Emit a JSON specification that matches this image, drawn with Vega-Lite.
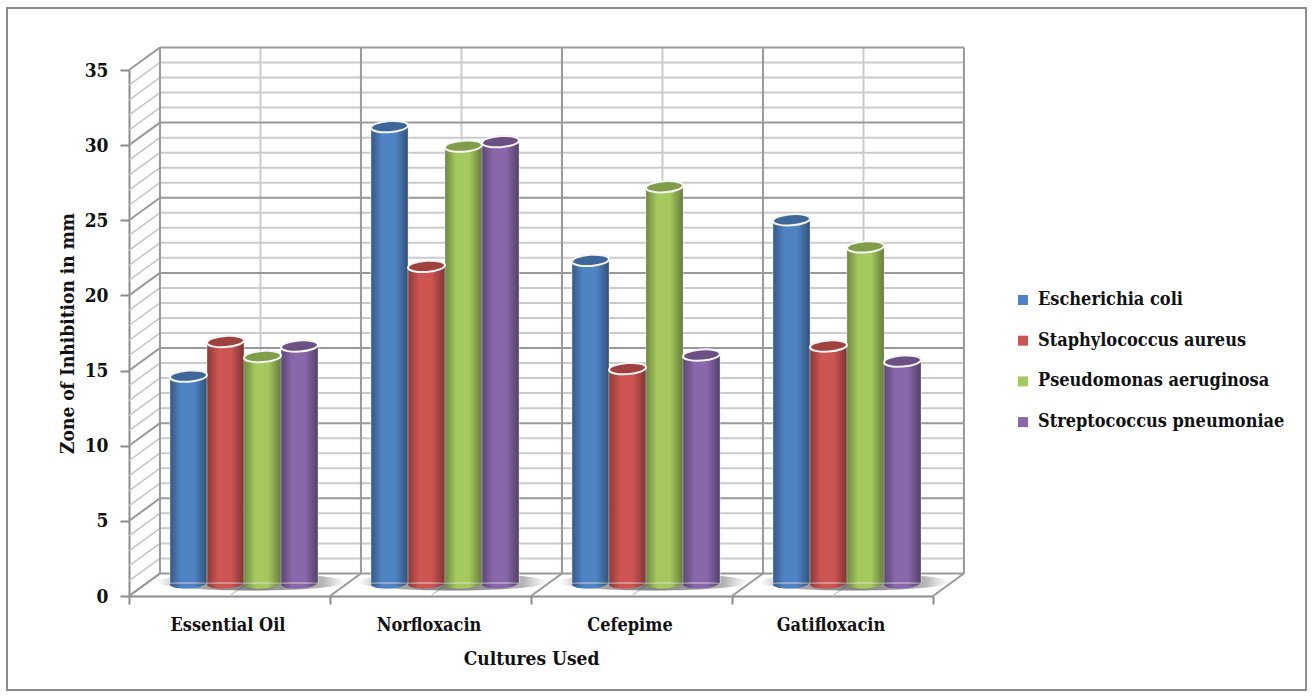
{
  "$schema": "https://vega.github.io/schema/vega-lite/v6.json",
  "width": 804,
  "height": 526,
  "autosize": {"type": "none"},
  "padding": {"left": 129, "top": 70, "right": 379, "bottom": 101},
  "background": "white",
  "config": {
    "view": {"stroke": null},
    "font": "DejaVu Serif Condensed"
  },
  "datasets": {
    "page": [{"panel": "page"}],
    "readings": [
      {"drug": "Essential Oil", "culture": "Escherichia coli", "zone": 13.9},
      {"drug": "Essential Oil", "culture": "Staphylococcus aureus", "zone": 16.2},
      {"drug": "Essential Oil", "culture": "Pseudomonas aeruginosa", "zone": 15.2},
      {"drug": "Essential Oil", "culture": "Streptococcus pneumoniae", "zone": 15.9},
      {"drug": "Norfloxacin", "culture": "Escherichia coli", "zone": 30.5},
      {"drug": "Norfloxacin", "culture": "Staphylococcus aureus", "zone": 21.2},
      {"drug": "Norfloxacin", "culture": "Pseudomonas aeruginosa", "zone": 29.2},
      {"drug": "Norfloxacin", "culture": "Streptococcus pneumoniae", "zone": 29.5},
      {"drug": "Cefepime", "culture": "Escherichia coli", "zone": 21.6},
      {"drug": "Cefepime", "culture": "Staphylococcus aureus", "zone": 14.4},
      {"drug": "Cefepime", "culture": "Pseudomonas aeruginosa", "zone": 26.5},
      {"drug": "Cefepime", "culture": "Streptococcus pneumoniae", "zone": 15.3},
      {"drug": "Gatifloxacin", "culture": "Escherichia coli", "zone": 24.3},
      {"drug": "Gatifloxacin", "culture": "Staphylococcus aureus", "zone": 15.9},
      {"drug": "Gatifloxacin", "culture": "Pseudomonas aeruginosa", "zone": 22.5},
      {"drug": "Gatifloxacin", "culture": "Streptococcus pneumoniae", "zone": 14.9}
    ],
    "drugs": [
      {"drug": "Essential Oil"},
      {"drug": "Norfloxacin"},
      {"drug": "Cefepime"},
      {"drug": "Gatifloxacin"}
    ],
    "minorLevels": [
      {"level": 1, "back": 2.5}, {"level": 2, "back": 3.5}, {"level": 3, "back": 4.5}, {"level": 4, "back": 5.5},
      {"level": 6, "back": 7.5}, {"level": 7, "back": 8.5}, {"level": 8, "back": 9.5}, {"level": 9, "back": 10.5},
      {"level": 11, "back": 12.5}, {"level": 12, "back": 13.5}, {"level": 13, "back": 14.5}, {"level": 14, "back": 15.5},
      {"level": 16, "back": 17.5}, {"level": 17, "back": 18.5}, {"level": 18, "back": 19.5}, {"level": 19, "back": 20.5},
      {"level": 21, "back": 22.5}, {"level": 22, "back": 23.5}, {"level": 23, "back": 24.5}, {"level": 24, "back": 25.5},
      {"level": 26, "back": 27.5}, {"level": 27, "back": 28.5}, {"level": 28, "back": 29.5}, {"level": 29, "back": 30.5},
      {"level": 31, "back": 32.5}, {"level": 32, "back": 33.5}, {"level": 33, "back": 34.5}, {"level": 34, "back": 35.5}
    ],
    "majorLevels": [
      {"level": 0, "back": 1.5}, {"level": 5, "back": 6.5}, {"level": 10, "back": 11.5}, {"level": 15, "back": 16.5},
      {"level": 20, "back": 21.5}, {"level": 25, "back": 26.5}, {"level": 30, "back": 31.5}, {"level": 35, "back": 36.5}
    ],
    "minorColumns": [
      {"front": 0.5, "back": 0.654}, {"front": 1.5, "back": 1.654}, {"front": 2.5, "back": 2.654}, {"front": 3.5, "back": 3.654}
    ],
    "majorColumns": [
      {"front": 0, "back": 0.154}, {"front": 1, "back": 1.154}, {"front": 2, "back": 2.154}, {"front": 3, "back": 3.154}, {"front": 4, "back": 4.154}
    ]
  },
  "layer": [
    {
      "layer": [
        {
          "data": {"name": "page"},
          "mark": {"type": "rect", "fill": "transparent", "stroke": "#8c8c8c", "strokeWidth": 2},
          "encoding": {
            "x": {"datum": -0.607, "type": "quantitative", "scale": {"domain": [0, 4], "nice": false}, "axis": null},
            "x2": {"datum": 5.856},
            "y": {"datum": 39.12, "type": "quantitative", "scale": {"domain": [0, 35], "nice": false}, "axis": {
              "values": [0, 5, 10, 15, 20, 25, 30, 35],
              "grid": false,
              "title": "Zone of Inhibition in mm",
              "titleFont": "DejaVu Serif Condensed",
              "titleFontSize": 19,
              "titleFontWeight": "bold",
              "titleColor": "#111111",
              "titlePadding": 7,
              "labelFont": "DejaVu Serif Condensed",
              "labelFontSize": 19,
              "labelFontWeight": "bold",
              "labelColor": "#111111",
              "labelPadding": 12,
              "tickSize": 9,
              "tickWidth": 2,
              "tickColor": "#8c8c8c",
              "domainColor": "#8c8c8c",
              "domainWidth": 2
            }},
            "y2": {"datum": -6.25}
          }
        },
        {
          "data": {"name": "minorLevels"},
          "mark": {"type": "rule", "color": "#cbcbcb", "strokeWidth": 2},
          "encoding": {
            "x": {"datum": 0.154, "type": "quantitative"},
            "x2": {"datum": 4.154},
            "y": {"field": "back", "type": "quantitative"}
          }
        },
        {
          "data": {"name": "minorLevels"},
          "mark": {"type": "rule", "color": "#c4c4c4", "strokeWidth": 1.5},
          "encoding": {
            "x": {"datum": 0, "type": "quantitative"},
            "x2": {"datum": 0.154},
            "y": {"field": "level", "type": "quantitative"},
            "y2": {"field": "back"}
          }
        },
        {
          "data": {"name": "minorColumns"},
          "mark": {"type": "rule", "color": "#cbcbcb", "strokeWidth": 2},
          "encoding": {
            "x": {"field": "back", "type": "quantitative"},
            "y": {"datum": 1.5, "type": "quantitative"},
            "y2": {"datum": 36.5}
          }
        },
        {
          "data": {"name": "minorColumns"},
          "mark": {"type": "rule", "color": "#cbcbcb", "strokeWidth": 1.5},
          "encoding": {
            "x": {"field": "front", "type": "quantitative"},
            "x2": {"field": "back"},
            "y": {"datum": 0, "type": "quantitative"},
            "y2": {"datum": 1.5}
          }
        },
        {
          "data": {"name": "majorLevels"},
          "mark": {"type": "rule", "color": "#999999", "strokeWidth": 2},
          "encoding": {
            "x": {"datum": 0.154, "type": "quantitative"},
            "x2": {"datum": 4.154},
            "y": {"field": "back", "type": "quantitative"}
          }
        },
        {
          "data": {"name": "majorLevels"},
          "mark": {"type": "rule", "color": "#999999", "strokeWidth": 2},
          "encoding": {
            "x": {"datum": 0, "type": "quantitative"},
            "x2": {"datum": 0.154},
            "y": {"field": "level", "type": "quantitative"},
            "y2": {"field": "back"}
          }
        },
        {
          "data": {"name": "majorColumns"},
          "mark": {"type": "rule", "color": "#999999", "strokeWidth": 2},
          "encoding": {
            "x": {"field": "back", "type": "quantitative"},
            "y": {"datum": 1.5, "type": "quantitative"},
            "y2": {"datum": 36.5}
          }
        },
        {
          "data": {"name": "majorColumns"},
          "mark": {"type": "rule", "color": "#999999", "strokeWidth": 2},
          "encoding": {
            "x": {"field": "front", "type": "quantitative"},
            "x2": {"field": "back"},
            "y": {"datum": 0, "type": "quantitative"},
            "y2": {"datum": 1.5}
          }
        }
      ]
    },
    {
      "encoding": {
        "x": {
          "field": "drug",
          "type": "nominal",
          "sort": ["Essential Oil", "Norfloxacin", "Cefepime", "Gatifloxacin"],
          "scale": {"paddingInner": 0, "paddingOuter": 0},
          "axis": {
            "orient": "bottom",
            "title": "Cultures Used",
            "titleFont": "DejaVu Serif Condensed",
            "titleFontSize": 19,
            "titleFontWeight": "bold",
            "titleColor": "#111111",
            "titlePadding": 15,
            "labelFont": "DejaVu Serif Condensed",
            "labelFontSize": 18,
            "labelFontWeight": "bold",
            "labelColor": "#111111",
            "labelAngle": 0,
            "labelPadding": 12,
            "labelOffset": -2,
            "tickBand": "extent",
            "tickSize": 8,
            "tickWidth": 2,
            "tickColor": "#8c8c8c",
            "domainColor": "#8c8c8c",
            "domainWidth": 2,
            "grid": false
          }
        }
      },
      "layer": [
        {
          "data": {"name": "drugs"},
          "mark": {
            "type": "point",
            "shape": "M-1,0 A1,0.09 0 1,1 1,0 A1,0.09 0 1,1 -1,0 Z",
            "size": 36000,
            "filled": true,
            "opacity": 1,
            "xOffset": 22,
            "yOffset": -14,
            "fill": {
              "gradient": "radial", "x1": 0.5, "y1": 0.5, "r1": 0, "x2": 0.5, "y2": 0.5, "r2": 0.5,
              "stops": [
                {"offset": 0, "color": "rgba(70,70,70,0.7)"},
                {"offset": 0.75, "color": "rgba(90,90,90,0.45)"},
                {"offset": 1, "color": "rgba(130,130,130,0)"}
              ]
            }
          },
          "encoding": {
            "y": {"datum": 0, "type": "quantitative"}
          }
        },
        {
          "data": {"name": "readings"},
          "encoding": {
            "xOffset": {
              "field": "culture",
              "type": "nominal",
              "scale": {"domain": ["Escherichia coli", "Staphylococcus aureus", "Pseudomonas aeruginosa", "Streptococcus pneumoniae"], "paddingInner": 0, "paddingOuter": 0, "range": [41, 189]}
            }
          },
          "layer": [
            {
              "mark": {
                "type": "point",
                "shape": "M-1,0 A1,0.3 0 1,1 1,0 A1,0.3 0 1,1 -1,0 Z",
                "size": 1369,
                "filled": true,
                "opacity": 1,
                "angle": -4,
                "yOffset": -13
              },
              "encoding": {
                "y": {"datum": 0, "type": "quantitative"},
                "color": {"field": "culture", "type": "nominal"}
              }
            },
            {
              "mark": {
                "type": "point",
                "shape": "M-1,0 A1,0.3 0 1,1 1,0 A1,0.3 0 1,1 -1,0 Z",
                "size": 1369,
                "filled": true,
                "opacity": 1,
                "angle": -4,
                "yOffset": -13,
                "fill": {
                  "gradient": "linear", "x1": 0, "y1": 0, "x2": 1, "y2": 0,
                  "stops": [
                    {"offset": 0, "color": "rgba(0,0,0,0.32)"},
                    {"offset": 0.3, "color": "rgba(0,0,0,0)"},
                    {"offset": 0.65, "color": "rgba(0,0,0,0)"},
                    {"offset": 1, "color": "rgba(0,0,0,0.38)"}
                  ]
                }
              },
              "encoding": {
                "y": {"datum": 0, "type": "quantitative"}
              }
            },
            {
              "mark": {
                "type": "bar",
                "yOffset": -11,
                "y2Offset": -13,
                "stroke": "#e8e8e8",
                "strokeWidth": 0.8
              },
              "encoding": {
                "y": {"field": "zone", "type": "quantitative"},
                "y2": {"datum": 0},
                "color": {
                  "field": "culture",
                  "type": "nominal",
                  "scale": {
                    "domain": ["Escherichia coli", "Staphylococcus aureus", "Pseudomonas aeruginosa", "Streptococcus pneumoniae"],
                    "range": ["#4f83c4", "#cc5451", "#a5c95e", "#8867aa"]
                  },
                  "legend": {
                    "title": null,
                    "orient": "none",
                    "legendX": 885,
                    "legendY": 221,
                    "symbolType": "square",
                    "symbolSize": 100,
                    "symbolStrokeWidth": 0,
                    "symbolOpacity": 1,
                    "labelFont": "DejaVu Serif Condensed",
                    "labelFontSize": 18,
                    "labelFontWeight": "bold",
                    "labelColor": "#111111",
                    "labelOffset": 6,
                    "rowPadding": 22.7,
                    "labelLimit": 320
                  }
                }
              }
            },
            {
              "mark": {
                "type": "bar",
                "yOffset": -11,
                "y2Offset": -13,
                "fill": {
                  "gradient": "linear", "x1": 0, "y1": 0, "x2": 1, "y2": 0,
                  "stops": [
                    {"offset": 0, "color": "rgba(0,0,0,0.32)"},
                    {"offset": 0.3, "color": "rgba(0,0,0,0)"},
                    {"offset": 0.65, "color": "rgba(0,0,0,0)"},
                    {"offset": 1, "color": "rgba(0,0,0,0.38)"}
                  ]
                }
              },
              "encoding": {
                "y": {"field": "zone", "type": "quantitative"},
                "y2": {"datum": 0}
              }
            },
            {
              "mark": {
                "type": "point",
                "shape": "M-1,0 A1,0.3 0 1,1 1,0 A1,0.3 0 1,1 -1,0 Z",
                "size": 1369,
                "filled": true,
                "opacity": 1,
                "angle": -4,
                "yOffset": -11
              },
              "encoding": {
                "y": {"field": "zone", "type": "quantitative"},
                "color": {"field": "culture", "type": "nominal"}
              }
            },
            {
              "mark": {
                "type": "point",
                "shape": "M-1,0 A1,0.3 0 1,1 1,0 A1,0.3 0 1,1 -1,0 Z",
                "size": 1369,
                "filled": true,
                "opacity": 1,
                "angle": -4,
                "yOffset": -11,
                "fill": "rgba(0,0,0,0.22)",
                "stroke": "#f4f4f4",
                "strokeWidth": 2
              },
              "encoding": {
                "y": {"field": "zone", "type": "quantitative"}
              }
            }
          ]
        }
      ]
    }
  ],
  "resolve": {"scale": {"x": "independent"}, "axis": {"x": "independent"}}
}
